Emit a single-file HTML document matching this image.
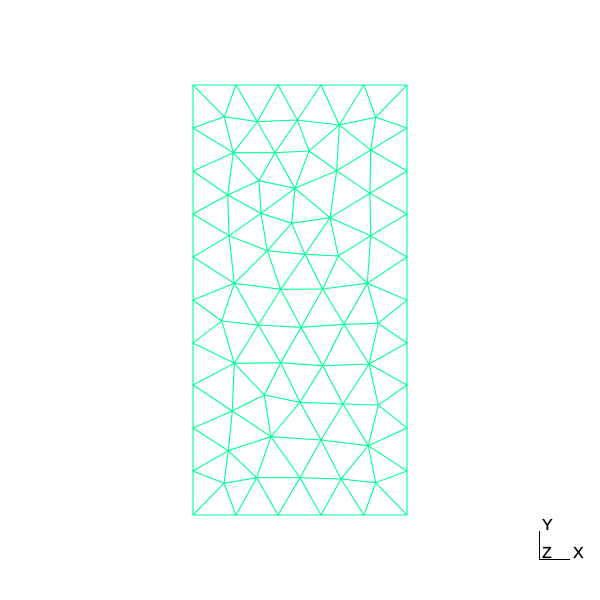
<!DOCTYPE html>
<html><head><meta charset="utf-8"><style>
html,body{margin:0;padding:0;background:#fff;}
svg{display:block;}
text{font-family:"Liberation Sans",sans-serif;font-size:16px;fill:#000;stroke:#000;stroke-width:0.3;}
</style></head><body>
<svg id="c" width="600" height="600" viewBox="0 0 600 600">
<g id="mesh" stroke="#00ff99" stroke-width="1.1" fill="none"></g>
<rect x="193" y="85" width="214" height="430" fill="none" stroke="#00ff99" stroke-width="1"/>
<g>
<line x1="539.5" y1="531" x2="539.5" y2="559.5" stroke="#000"/>
<line x1="539" y1="559.5" x2="570" y2="559.5" stroke="#000"/>
<text x="542" y="530">Y</text>
<text x="542" y="558">Z</text>
<text x="573" y="558">X</text>
</g>
</svg>
<script>
const boundaryX=[193,236,278,321,364,407];
const boundaryY=[85,128,171,214,257,300,343,385,428,471,515];
const interiorNodes=[
[224.3,116.7],[257.3,121.7],[297.3,120],[339.3,125],[375.7,117.3],
[233.3,152.7],[275,152.7],[309,151],[370.7,150],
[259,180.7],[295,188.3],[336.7,170.7],[227.7,195],[370,193.3],
[261,213.3],[330,217.7],[291.7,223.3],[229,235.7],[370.7,235.7],
[267.3,250.7],[305,254.3],[338.3,256],
[234.3,283.3],[280.7,289.3],[322.7,289],[367.3,283.3],
[221.7,321],[258.3,325],[301,327.3],[344,324.3],[378.3,323.3],
[234.3,363.3],[280.7,362.7],[322.7,365.7],[369,364],
[264.3,395],[300,402.3],[343,404],[378.3,405],[232.3,411],
[271,436.7],[321,440],[368.3,445.7],[228.3,450.7],
[256.7,477.7],[300,477.7],[341,479],[224,483.3],[375.7,482.7]
];
const pts=[];
boundaryX.forEach(x=>{pts.push([x,85]);pts.push([x,515]);});
boundaryY.slice(1,-1).forEach(y=>{pts.push([193,y]);pts.push([407,y]);});
interiorNodes.forEach(p=>pts.push(p));
function circ(a,b,c){const ax=a[0],ay=a[1],bx=b[0],by=b[1],cx=c[0],cy=c[1];
const d=2*(ax*(by-cy)+bx*(cy-ay)+cx*(ay-by));if(Math.abs(d)<1e-9)return null;
const ux=((ax*ax+ay*ay)*(by-cy)+(bx*bx+by*by)*(cy-ay)+(cx*cx+cy*cy)*(ay-by))/d;
const uy=((ax*ax+ay*ay)*(cx-bx)+(bx*bx+by*by)*(ax-cx)+(cx*cx+cy*cy)*(bx-ax))/d;
return [ux,uy,(ax-ux)**2+(ay-uy)**2];}
const P=pts.map((p,i)=>[p[0]+((i*37)%11-5)*1e-7,p[1]+((i*53)%13-6)*1e-7]);
const n=P.length;P.push([-5000,-5000],[6000,-5000],[300,8000]);
let tris=[[n,n+1,n+2]];tris.forEach(t=>t.c=circ(P[t[0]],P[t[1]],P[t[2]]));
for(let i=0;i<n;i++){const p=P[i];const bad=[],keep=[];
tris.forEach(t=>{const c=t.c;if(c&&(p[0]-c[0])**2+(p[1]-c[1])**2<c[2])bad.push(t);else keep.push(t);});
const edges={};bad.forEach(t=>{[[t[0],t[1]],[t[1],t[2]],[t[2],t[0]]].forEach(e=>{const k=Math.min(e[0],e[1])+','+Math.max(e[0],e[1]);edges[k]=edges[k]?null:e;});});
Object.values(edges).forEach(e=>{if(e){const t=[e[0],e[1],i];t.c=circ(P[t[0]],P[t[1]],P[t[2]]);keep.push(t);}});
tris=keep;}
const g=document.getElementById('mesh');const seen={};
tris.forEach(t=>{if(t[0]>=n||t[1]>=n||t[2]>=n)return;
[[t[0],t[1]],[t[1],t[2]],[t[2],t[0]]].forEach(e=>{const k=Math.min(e[0],e[1])+','+Math.max(e[0],e[1]);if(seen[k])return;seen[k]=1;
const l=document.createElementNS('http://www.w3.org/2000/svg','line');
l.setAttribute('x1',pts[e[0]][0]);l.setAttribute('y1',pts[e[0]][1]);l.setAttribute('x2',pts[e[1]][0]);l.setAttribute('y2',pts[e[1]][1]);


g.appendChild(l);});});
</script>
</body></html>
